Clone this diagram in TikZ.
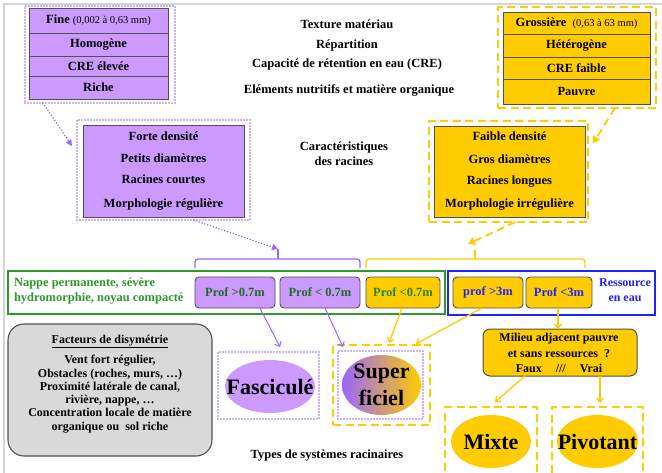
\documentclass[tikz,border=0pt]{standalone}
\usepackage{fontspec}
\setmainfont{Liberation Serif}
\usetikzlibrary{shapes.geometric,arrows.meta}
\definecolor{pfill}{HTML}{CC99FF}
\definecolor{pline}{HTML}{9966FF}
\definecolor{yfill}{HTML}{FFCC00}
\definecolor{gline}{HTML}{2E9A2E}
\definecolor{bline}{HTML}{2222FF}
\definecolor{graybox}{HTML}{D9D9D9}
\definecolor{edge}{HTML}{505050}
\definecolor{frame}{HTML}{D4D4D4}
\newcommand\myfont{\fontsize{12.5}{15}\selectfont\bfseries}
\newcommand\bigfont{\fontsize{22}{26}\selectfont\bfseries}
\begin{document}
\begin{tikzpicture}[x=1pt,y=-1pt,
  every node/.style={inner sep=0pt,outer sep=0pt},
  cell/.style={draw=edge,line width=1pt,font=\myfont},
  pcell/.style={cell,fill=pfill},
  ycell/.style={cell,fill=yfill},
  pdot/.style={draw=pline,line width=1.7pt,line cap=round,dash pattern=on 0pt off 3pt},
  ydash/.style={draw=yfill,line width=1.8pt,dash pattern=on 8pt off 4.5pt},
  probox/.style={draw=edge,line width=0.9pt,rounded corners=4pt,font=\myfont,minimum height=31pt},
  plain/.style={font=\myfont,align=center},
  parr/.style={draw=pline,line width=1pt,-{Straight Barb[length=4pt,width=7pt]}},
  yarr/.style={draw=yfill,line width=1.3pt,-{Straight Barb[length=4pt,width=7pt]}},
  big/.style={ellipse}]
\useasboundingbox (0,0) rectangle (662,472);
\fill[white] (0,0) rectangle (662,472);
\clip (0,0) rectangle (662,472);
% frame
\draw[frame,line width=2.5pt] (4,480) -- (4,4) -- (670,4);

% ---- top left: fine texture
\node[pcell,minimum width=139pt,minimum height=25pt] (f1) at (98.5,20.5)
  {Fine {\fontsize{10.5}{12}\selectfont\mdseries (0,002 à 0,63 mm)}};
\node[pcell,minimum width=139pt,minimum height=23pt] (f2) at (98.5,44.5) {Homogène};
\node[pcell,minimum width=139pt,minimum height=20pt] (f3) at (98.5,66) {CRE élevée};
\node[pcell,minimum width=139pt,minimum height=23pt] (f4) at (98.5,87.5) {Riche};
\node[pdot,minimum width=150pt,minimum height=97pt] (fineG) at (100,54.5) {};

% ---- top right: coarse texture
\node[ycell,minimum width=147pt,minimum height=22pt] (g1) at (576.5,23)
  {Grossière \ {\fontsize{10.5}{12}\selectfont\mdseries (0,63 à 63 mm)}};
\node[ycell,minimum width=147pt,minimum height=23pt] (g2) at (576.5,45.5) {Hétérogène};
\node[ycell,minimum width=147pt,minimum height=22pt] (g3) at (576.5,68) {CRE faible};
\node[ycell,minimum width=147pt,minimum height=25pt] (g4) at (576.5,91.5) {Pauvre};
\node[ydash,minimum width=158pt,minimum height=101pt] (coarseG) at (577,57.5) {};

% ---- centre labels
\node[plain] (t1) at (347,24) {Texture matériau};
\node[plain] (t2) at (347,45) {Répartition};
\node[plain] (t3) at (347,64) {Capacité de rétention en eau (CRE)};
\node[plain] (t4) at (349,90) {Eléments nutritifs et matière organique};
\node[plain,font=\myfont,align=center] (car) at (344,153.5) {Caractéristiques\\des racines};

% ---- root characteristics
\node[pcell,minimum width=161pt,minimum height=92pt,align=center] (lc) at (163.5,171)
  {Forte densité\\[7.5pt]Petits diamètres\\[6pt]Racines courtes\\[8.5pt]Morphologie régulière};
\node[pdot,minimum width=173pt,minimum height=100pt] (lcG) at (163.5,170) {};
\node[ycell,minimum width=151pt,minimum height=91pt,align=center] (rc) at (509.5,171.5)
  {Faible densité\\[7.5pt]Gros diamètres\\[6pt]Racines longues\\[8.5pt]Morphologie irrégulière};
\node[ydash,minimum width=159pt,minimum height=101pt] (rcG) at (508.5,171.5) {};

% ---- brackets
\coordinate (pbr) at (278,249);
\coordinate (ybr) at (475,250);
\draw[pline,line width=1.3pt,rounded corners=3pt] (195,268) |- (278,259) -| (360,268);
\draw[pline,line width=1.3pt] (278,259) -- (pbr);
\draw[yfill,line width=1.3pt,rounded corners=3pt] (366,268) |- (475,259) -| (585,268);
\draw[yfill,line width=1.3pt] (475,259) -- (ybr);

% ---- depth rows
\node[draw=gline,line width=1.6pt,minimum width=437pt,minimum height=43pt] (green) at (226.5,292.5) {};
\node[draw=bline,line width=1.6pt,minimum width=207pt,minimum height=44pt] (blue) at (551.5,293) {};
\node[anchor=west,align=left,text=gline,font=\myfont] (nappe) at (14,291)
  {Nappe permanente, sévère\\hydromorphie,\ noyau compacté};
\node[probox,fill=pfill,text=gline!70!black,minimum width=80pt] (p1) at (235,292.5) {Prof >0.7m};
\node[probox,fill=pfill,text=gline!70!black,minimum width=80pt] (p2) at (320,292.5) {Prof < 0.7m};
\node[probox,fill=yfill,text=gline!85!black,minimum width=74pt] (p3) at (403,292.5) {Prof <0.7m};
\node[probox,fill=yfill,text=bline,minimum width=70pt] (p4) at (488,292.5) {prof >3m};
\node[probox,fill=yfill,text=bline,minimum width=66pt] (p5) at (559,292.5) {Prof <3m};
\node[text=bline,font=\fontsize{12}{15}\selectfont\bfseries,align=center] (res) at (625,290.5) {Ressource\\en eau};

% ---- dysmetry box
\node[draw=edge,line width=1.1pt,fill=graybox,rounded corners=16pt,minimum width=204pt,minimum height=132pt] (dys) at (110,390) {};
\node[align=center,font=\fontsize{12}{13.3}\selectfont\bfseries] (dysT) at (110,384)
  {\underline{Facteurs de disymétrie}\\[7pt]
   Vent fort régulier,\\Obstacles (roches, murs, \dots)\\Proximité latérale de canal,\\
   rivière, nappe, \dots\\Concentration locale de matière\\organique ou\ \ sol riche};

% ---- root system types
\node[big,fill=pfill,minimum width=90pt,minimum height=53pt,
      label={[font=\bigfont]center:Fasciculé}] (fasc) at (270,386.5) {};
\node[pdot,minimum width=101pt,minimum height=67pt] (fascB) at (268.5,385.5) {};
\node[big,left color=pline,right color=yfill,minimum width=79pt,minimum height=60pt,
      label={[font=\fontsize{22}{27}\selectfont\bfseries,align=center]center:Super\\ficiel}] (sup) at (381.5,385) {};
\node[pdot,minimum width=85pt,minimum height=68pt] (supP) at (380.5,385) {};
\node[ydash,minimum width=97pt,minimum height=80pt] (supY) at (381.5,385) {};
\node[plain] (types) at (327,455) {Types de systèmes racinaires};

\node[draw=edge,line width=1pt,fill=yfill,rounded corners=7pt,minimum width=154pt,minimum height=47pt] (mil) at (560,352.5) {};
\node[align=center,font=\fontsize{12}{15.5}\selectfont\bfseries] (milT) at (559,353)
  {Milieu adjacent pauvre\\et sans ressources\ \ ?\\Faux\hspace{14pt}///\hspace{14pt}Vrai};

\node[big,fill=yfill,minimum width=80pt,minimum height=53pt,
      label={[font=\bigfont]center:Mixte}] (mix) at (491,441.5) {};
\node[ydash,minimum width=92pt,minimum height=73pt] (mixB) at (491,443.5) {};
\node[big,fill=yfill,minimum width=81pt,minimum height=53pt,
      label={[font=\bigfont]center:Pivotant}] (piv) at (597.5,441.5) {};
\node[ydash,minimum width=91pt,minimum height=73pt] (pivB) at (597.5,443.5) {};

% ---- connectors
\draw[pdot,-{Triangle[length=6pt,width=6pt]}] ([xshift=18pt]fineG.south west) -- ([xshift=-5pt,yshift=24pt]lcG.west);
\draw[pdot,-{Triangle[length=6pt,width=6pt]}] ([xshift=30pt]lcG.south) -- (pbr);
\draw[ydash,-{Triangle[length=7pt,width=8pt]}] ([xshift=38pt]coarseG.south) -- ([xshift=5pt,yshift=28pt]rcG.east);
\draw[ydash,-{Triangle[length=7pt,width=8pt]}] ([xshift=7pt]rcG.south) -- ([xshift=-7pt,yshift=6pt]ybr);

\draw[parr] ([xshift=25pt]p1.south) -- ([xshift=11.5pt,yshift=5pt]fascB.north);
\draw[parr] ([xshift=5pt]p2.south) -- ([xshift=5pt,yshift=4pt]supP.north west);
\draw[yarr] ([xshift=-1pt]p3.south) -- ([xshift=7.5pt,yshift=2pt]supY.north);
\draw[yarr] ([xshift=-6pt]p4.south) -- ([xshift=-14pt,yshift=1pt]supY.north east);
\draw[yarr] ([xshift=-1pt]p5.south) -- ([xshift=-2pt]mil.north);
\draw[yarr] ([xshift=-35pt]mil.south) -- ([xshift=4pt,yshift=5pt]mixB.north);
\draw[yarr] ([xshift=40pt]mil.south) -- ([xshift=2.5pt,yshift=4pt]pivB.north);
\end{tikzpicture}
\end{document}
